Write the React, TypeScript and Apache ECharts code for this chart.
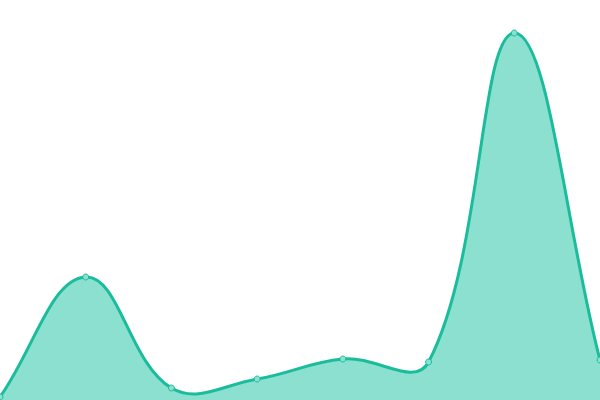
import React, { useEffect, useRef } from 'react';
import * as echarts from 'echarts';

const categories = ['1', '2', '3', '4', '5', '6', '7', '8'];
const values = [3, 123, 12, 21, 41, 38, 367, 40];

const LINE = '#1abc9c';
const FILL = '#8be0cf';
const TENSION = 0.4;

// spline through the points in pixel space, control points weighted by segment length
function buildPath(pts: number[][]) {
  const cps = pts.map((p, i) => {
    const prev = pts[i - 1] || p;
    const next = pts[i + 1] || p;
    const d01 = Math.hypot(p[0] - prev[0], p[1] - prev[1]);
    const d12 = Math.hypot(next[0] - p[0], next[1] - p[1]);
    const sum = d01 + d12 || 1;
    const fa = (TENSION * d01) / sum;
    const fb = (TENSION * d12) / sum;
    return {
      before: [p[0] - fa * (next[0] - prev[0]), p[1] - fa * (next[1] - prev[1])],
      after: [p[0] + fb * (next[0] - prev[0]), p[1] + fb * (next[1] - prev[1])]
    };
  });
  let d = `M${pts[0][0]},${pts[0][1]}`;
  for (let i = 1; i < pts.length; i++) {
    const a = cps[i - 1].after;
    const b = cps[i].before;
    d += ` C${a[0]},${a[1]} ${b[0]},${b[1]} ${pts[i][0]},${pts[i][1]}`;
  }
  return d;
}

const App = () => {
  const chartRef = useRef<HTMLDivElement>(null);

  useEffect(() => {
    if (!chartRef.current) return;
    const chart = echarts.init(chartRef.current, null, { renderer: 'svg' });

    chart.setOption({
      animation: false,
      grid: { left: 0, right: 0, top: 0, bottom: 0 },
      xAxis: {
        type: 'category',
        data: categories,
        boundaryGap: false,
        show: false
      },
      yAxis: {
        type: 'value',
        min: 0,
        max: 400,
        show: false
      },
      series: [
        {
          type: 'custom',
          data: values.map((v, i) => [i, v]),
          renderItem: (params: any, api: any) => {
            const idx = params.dataIndex;
            const pt = api.coord([api.value(0), api.value(1)]);
            const dot = {
              type: 'circle',
              shape: { cx: pt[0], cy: pt[1], r: 3 },
              style: { fill: FILL, stroke: LINE, lineWidth: 1 }
            };
            if (idx !== 0) return dot;
            const pts = values.map((v, i) => api.coord([i, v]));
            const base = api.coord([0, 0])[1];
            const curve = buildPath(pts);
            const last = pts[pts.length - 1];
            const area = `${curve} L${last[0]},${base} L${pts[0][0]},${base} Z`;
            return {
              type: 'group',
              children: [
                { type: 'path', shape: { pathData: area }, style: { fill: FILL } },
                {
                  type: 'path',
                  shape: { pathData: curve },
                  style: { fill: 'none', stroke: LINE, lineWidth: 3 }
                },
                dot
              ]
            };
          }
        }
      ]
    });

    return () => chart.dispose();
  }, []);

  return (
    <div
      ref={chartRef}
      style={{ position: 'fixed', left: 0, top: 0, width: 600, height: 400 }}
    />
  );
};

export default App;
